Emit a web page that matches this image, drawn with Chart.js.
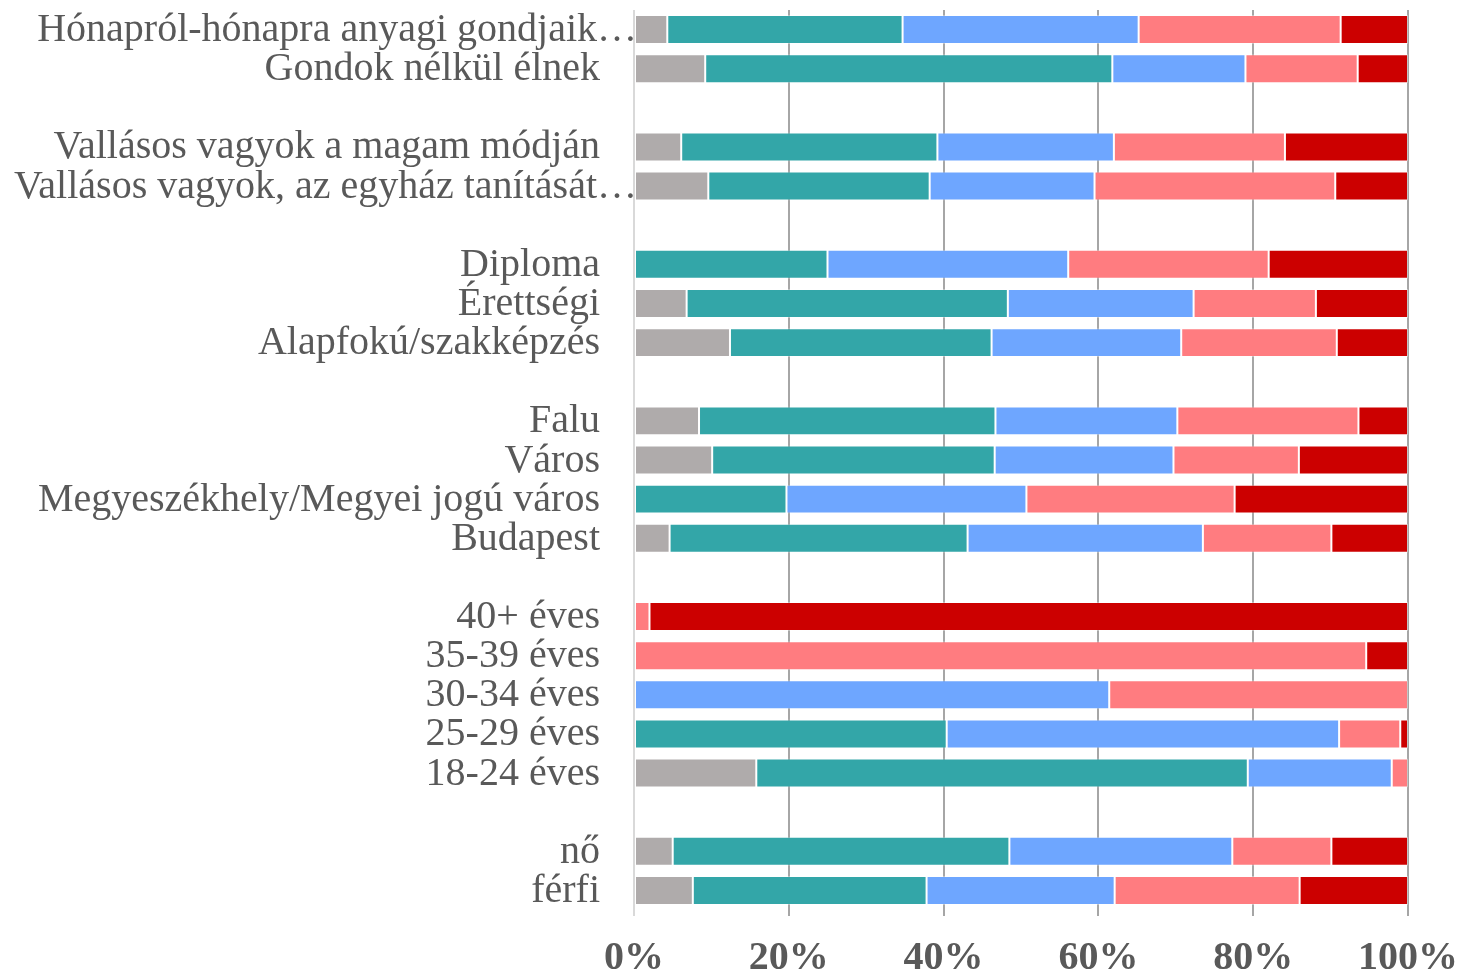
<!DOCTYPE html>
<html lang="hu">
<head>
    <meta charset="UTF-8">
    <title>Megoszlás csoportonként</title>
    <script src="https://cdn.jsdelivr.net/npm/chart.js"></script>
    <style>
        html, body { margin: 0; padding: 0; background: #fff; }
        .chart-container { position: relative; width: 1462px; height: 974px; }
    </style>
</head>
<body>
    <div class="chart-container">
        <canvas id="stackChart"></canvas>
    </div>

    <script>
        // --- DATA ---
        // empty strings are the spacer rows between the groups
        const categories = [
            'Hónapról-hónapra anyagi gondjaik…',
            'Gondok nélkül élnek',
            '',
            'Vallásos vagyok a magam módján',
            'Vallásos vagyok, az egyház tanítását…',
            '',
            'Diploma',
            'Érettségi',
            'Alapfokú/szakképzés',
            '',
            'Falu',
            'Város',
            'Megyeszékhely/Megyei jogú város',
            'Budapest',
            '',
            '40+ éves',
            '35-39 éves',
            '30-34 éves',
            '25-29 éves',
            '18-24 éves',
            '',
            'nő',
            'férfi'
        ];

        const grayValues  = [4.3, 9.2, null, 6.1, 9.6, null, 0, 6.8, 12.4, null, 8.4, 10.1, 0, 4.6, null, 0, 0, 0, 0, 15.8, null, 5.0, 7.6];
        const tealValues  = [30.4, 52.6, null, 33.1, 28.6, null, 25.0, 41.5, 33.8, null, 38.3, 36.5, 19.7, 38.5, null, 0, 0, 0, 40.4, 63.5, null, 43.5, 30.2];
        const blueValues  = [30.5, 17.2, null, 22.8, 21.3, null, 31.1, 24.0, 24.5, null, 23.5, 23.1, 31.0, 30.4, null, 0, 0, 61.4, 50.7, 18.6, null, 28.8, 24.3];
        const pinkValues  = [26.1, 14.5, null, 22.1, 31.1, null, 25.9, 15.8, 20.1, null, 23.4, 16.2, 26.9, 16.6, null, 2.0, 94.6, 38.6, 7.9, 2.1, null, 12.8, 23.9];
        const redValues   = [8.7, 6.5, null, 15.9, 9.4, null, 18.0, 11.9, 9.2, null, 6.4, 14.1, 22.4, 9.9, null, 98.0, 5.4, 0, 1.0, 0, null, 9.9, 14.0];

        const tickValues = [0, 20, 40, 60, 80, 100];

        const seriesColors = ['#AFABAB', '#33A6A8', '#6EA6FF', '#FF7C80', '#CC0000'];
        const seriesValues = [grayValues, tealValues, blueValues, pinkValues, redValues];

        // --- CATEGORY LABELS (drawn by hand so truncated ones can run past the others) ---
        const categoryLabels = {
            id: 'categoryLabels',
            afterDraw(chart) {
                const ctx = chart.ctx;
                const yScale = chart.scales.y;
                ctx.save();
                ctx.font = '40px "Liberation Serif", "Times New Roman", serif';
                ctx.fillStyle = '#595959';
                ctx.textAlign = 'right';
                ctx.textBaseline = 'middle';
                categories.forEach((label, i) => {
                    if (!label) return;
                    const y = yScale.getPixelForTick(i);
                    const x = label.endsWith('…') ? 637 : 600;
                    ctx.fillText(label, x, y + 1);
                });
                ctx.restore();
            }
        };

        // --- CHART.JS ---
        const ctx = document.getElementById('stackChart').getContext('2d');
        new Chart(ctx, {
            type: 'bar',
            data: {
                labels: categories,
                datasets: seriesValues.map((values, i) => ({
                    data: values,
                    backgroundColor: seriesColors[i],
                    borderColor: 'rgba(255,255,255,0.35)',
                    borderWidth: 1,
                    borderSkipped: false,
                    categoryPercentage: 1,
                    barPercentage: 0.74
                }))
            },
            options: {
                responsive: true,
                maintainAspectRatio: false,
                animation: false,
                indexAxis: 'y',
                layout: { padding: { left: 634, right: 54, top: 10, bottom: 0 } },
                scales: {
                    x: {
                        stacked: true,
                        min: 0,
                        max: 100,
                        afterBuildTicks: (scale) => { scale.ticks = tickValues.map(v => ({ value: v })); },
                        afterFit: (scale) => {
                            scale.height = 64;
                            scale.paddingLeft = 0;
                            scale.paddingRight = 0;
                        },
                        border: { display: false },
                        grid: {
                            color: (c) => c.index === 0 ? '#D9D9D9' : '#A6A6A6',
                            lineWidth: 2,
                            drawTicks: true,
                            tickLength: 6
                        },
                        ticks: {
                            padding: 19,
                            color: '#595959',
                            font: { family: '"Liberation Serif", "Times New Roman", serif', size: 40, weight: 'bold' },
                            callback: (v) => v + '%'
                        }
                    },
                    y: {
                        stacked: true,
                        display: false
                    }
                },
                plugins: {
                    legend: { display: false },
                    tooltip: { enabled: false }
                }
            },
            plugins: [categoryLabels]
        });
    </script>
</body>
</html>
